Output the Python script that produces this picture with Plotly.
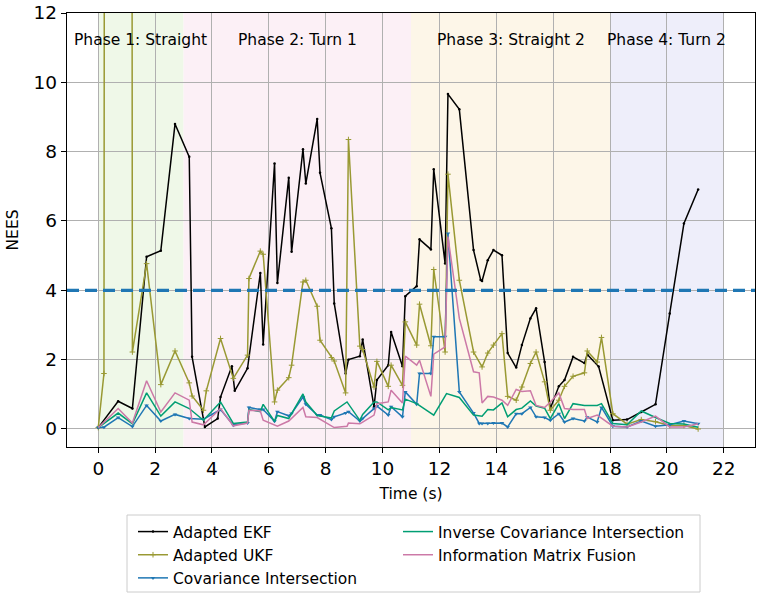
import plotly.graph_objects as go

# ---------------- data ----------------
ekf_t = [0, 0.7, 1.2, 1.7, 2.2, 2.7, 3.2, 3.3, 3.75, 4.2, 4.3, 4.7, 4.8, 5.25, 5.7, 5.8, 6.2, 6.3, 6.7, 6.8,
         7.2, 7.3, 7.7, 7.8, 8.2, 8.3, 8.7, 8.8, 9.2, 9.3, 9.7, 9.8, 10.2, 10.3, 10.7, 10.8, 11.2, 11.3,
         11.7, 11.8, 12.2, 12.3, 12.7, 13.2, 13.45, 13.5, 13.7, 13.9, 14.2, 14.4, 14.7, 14.9, 15.2, 15.4,
         15.7, 15.9, 16.2, 16.4, 16.7, 17.1, 17.2, 17.6, 18.1, 18.6, 19.1, 19.6, 20.1, 20.6, 21.1]
ekf_nees = [0.04, 0.8, 0.59, 4.97, 5.14, 8.8, 7.85, 2.08, 0.06, 0.3, 0.92, 1.81, 1.1, 1.75, 4.5, 2.44,
            7.66, 4.21, 7.25, 5.11, 8.07, 7.08, 8.94, 7.39, 5.79, 3.62, 1.6, 2.0, 2.1, 2.58, 0.64, 1.41,
            1.84, 2.8, 1.81, 3.83, 4.12, 5.47, 5.18, 7.49, 4.77, 9.66, 9.22, 5.16, 4.3, 4.27, 4.87, 5.16,
            5.01, 2.19, 1.77, 2.42, 3.19, 3.48, 1.93, 0.59, 1.23, 1.41, 2.08, 1.9, 2.15, 1.8, 0.25, 0.27,
            0.49, 0.71, 3.33, 5.93, 6.91]

ukf_t = [0, 0.2, 0.7, 1.2, 1.7, 2.2, 2.7, 3.2, 3.3, 3.7, 3.8, 4.3, 4.75, 5.25, 5.3, 5.7, 5.8, 6.2, 6.3,
         6.7, 6.8, 7.2, 7.3, 7.7, 7.8, 8.2, 8.3, 8.7, 8.8, 9.2, 9.3, 9.7, 9.8, 10.2, 10.3, 10.7, 10.8,
         11.2, 11.3, 11.7, 11.8, 12.2, 12.3, 12.7, 13.2, 13.5, 13.7, 13.9, 14.2, 14.4, 14.7, 14.9, 15.2,
         15.4, 15.7, 15.9, 16.2, 16.4, 16.7, 17.1, 17.2, 17.55, 17.7, 18.1, 18.6, 19.1, 19.6, 20.1,
         20.6, 21.1]
ukf_nees = [0.04, 1.6, 500.0, 2.22, 4.77, 1.28, 2.25, 1.33, 0.95, 0.54, 1.1, 2.61, 1.46, 2.13, 4.34,
            5.13, 5.04, 0.78, 1.12, 1.48, 1.84, 4.24, 4.29, 3.54, 2.56, 2.06, 1.96, 1.04, 8.35, 2.39,
            2.29, 1.21, 1.95, 1.23, 1.84, 1.26, 3.09, 2.42, 3.6, 2.4, 4.6, 2.22, 7.35, 4.29, 2.22, 1.79,
            2.19, 2.42, 2.75, 0.94, 0.83, 1.21, 1.89, 2.22, 1.36, 0.54, 0.83, 1.23, 1.52, 1.62, 2.25,
            1.93, 2.64, 0.44, 0.14, 0.27, 0.21, 0.1, 0.1, 0.0]

ci_t = [0, 0.2, 0.7, 1.2, 1.7, 2.2, 2.7, 3.2, 3.7, 4.3, 4.75, 4.8, 5.25, 5.3, 5.7, 5.8, 6.2, 6.3, 6.7,
        6.8, 7.2, 7.3, 7.7, 7.8, 8.2, 8.3, 8.7, 8.8, 9.2, 9.3, 9.7, 9.8, 10.2, 10.3, 10.7, 10.8, 11.2,
        11.3, 11.7, 11.8, 12.2, 12.3, 12.7, 13.2, 13.4, 13.5, 13.7, 13.9, 14.2, 14.4, 14.7, 14.9, 15.2,
        15.4, 15.7, 15.9, 16.2, 16.4, 16.7, 17.1, 17.2, 17.55, 17.7, 18.1, 18.6, 19.1, 19.6, 20.1,
        20.6, 21.1]
ci_nees = [0.04, 0.05, 0.33, 0.07, 0.68, 0.23, 0.42, 0.3, 0.28, 0.56, 0.11, 0.13, 0.17, 0.62, 0.56,
           0.56, 0.22, 0.5, 0.38, 0.45, 0.92, 0.71, 0.4, 0.4, 0.27, 0.35, 0.46, 0.5, 0.23, 0.3, 0.59,
           0.66, 0.4, 0.64, 0.35, 1.07, 0.71, 1.6, 1.6, 2.66, 2.66, 5.64, 1.07, 0.46, 0.16, 0.16, 0.16,
           0.17, 0.17, 0.06, 0.44, 0.44, 0.62, 0.35, 0.33, 0.25, 0.44, 0.2, 0.3, 0.23, 0.34, 0.2, 0.62,
           0.08, 0.06, 0.23, 0.08, 0.12, 0.23, 0.15]

ici_t = [0, 0.7, 1.2, 1.7, 2.2, 2.7, 3.2, 3.7, 4.3, 4.75, 5.25, 5.3, 5.7, 5.8, 6.2, 6.3, 6.7, 6.8, 7.2,
         7.3, 7.7, 8.2, 8.3, 8.75, 9.2, 9.3, 9.7, 9.8, 10.2, 10.3, 10.7, 10.8, 11.2, 11.8, 12.25, 12.7,
         13.2, 13.5, 13.7, 13.9, 14.2, 14.4, 14.7, 14.9, 15.2, 15.4, 15.7, 15.9, 16.2, 16.4, 16.7,
         17.1, 17.2, 17.55, 17.7, 18.1, 18.6, 19.1, 19.6, 20.1, 20.6, 21.1]
ici_nees = [0.04, 0.46, 0.15, 1.04, 0.37, 0.78, 0.59, 0.25, 0.78, 0.16, 0.2, 0.56, 0.5, 0.71, 0.22,
            0.39, 0.3, 0.45, 1.01, 0.78, 0.39, 0.32, 0.52, 0.78, 0.25, 0.42, 0.78, 0.78, 0.55, 0.62,
            0.55, 0.86, 0.73, 0.4, 1.02, 0.91, 0.4, 0.37, 0.56, 0.55, 0.75, 0.35, 0.56, 0.6, 0.81, 0.66,
            0.6, 0.3, 0.73, 0.3, 0.73, 0.68, 0.68, 0.68, 0.73, 0.16, 0.12, 0.52, 0.33, 0.16, 0.14, 0.05]

imf_t = [0, 0.7, 1.2, 1.7, 2.2, 2.7, 3.2, 3.3, 3.7, 4.3, 4.75, 5.25, 5.3, 5.7, 5.8, 6.3, 6.7, 7.2, 7.3,
         7.7, 8.3, 8.75, 8.8, 9.2, 9.3, 9.7, 9.8, 10.2, 10.3, 10.7, 10.8, 11.2, 11.3, 11.7, 11.8, 12.2,
         12.3, 12.7, 13.2, 13.4, 13.5, 13.7, 13.9, 14.2, 14.4, 14.7, 14.9, 15.2, 15.4, 15.7, 15.9,
         16.2, 16.4, 16.7, 17.1, 17.2, 17.55, 18.1, 18.6, 19.1, 19.6, 20.1, 20.6, 21.1]
imf_nees = [0.04, 0.59, 0.17, 1.39, 0.49, 1.04, 0.83, 0.2, 0.12, 0.59, 0.09, 0.17, 0.54, 0.52, 0.25,
            0.08, 0.23, 0.62, 0.35, 0.33, 0.04, 0.08, 0.17, 0.15, 0.2, 0.4, 0.73, 0.78, 1.12, 0.75, 2.1,
            1.84, 1.98, 0.94, 2.16, 2.37, 5.55, 3.19, 1.65, 1.62, 0.75, 0.94, 0.92, 0.83, 0.68, 1.14,
            1.08, 1.1, 0.68, 0.62, 0.78, 1.04, 0.59, 0.56, 0.56, 0.3, 0.4, 0.08, 0.06, 0.2, 0.37, 0.06,
            0.06, 0.15]

threshold = 4.0

phase_start = [0, 3, 11, 18]
phase_end = [3, 11, 18, 22]
phase_names = ["Phase 1: Straight", "Phase 2: Turn 1", "Phase 3: Straight 2", "Phase 4: Turn 2"]
phase_colors = ["#eff8e8", "#fcf0f6", "#fdf6e8", "#eeeefa"]

x_ticks = list(range(0, 23, 2))
y_ticks = list(range(0, 13, 2))

FONT = "DejaVu Sans"

# figure geometry (pixels)
W, H = 762, 599
ML, MR, MT, MB = 67, 7, 13, 152
PW, PH = W - ML - MR, H - MT - MB


def px_x(p):
    return (p - ML) / PW


def px_y(p):
    return (H - MB - p) / PH


fig = go.Figure()

series = [
    ("Adapted EKF", ekf_t, ekf_nees, "#000000", dict(symbol="circle", size=2.5), "legend", 1),
    ("Adapted UKF", ukf_t, ukf_nees, "#999933", dict(symbol="cross-thin", size=4,
                                                      line=dict(width=1, color="#999933")), "legend", 2),
    ("Covariance Intersection", ci_t, ci_nees, "#1f77b4", dict(symbol="triangle-down", size=4), "legend", 3),
    ("Inverse Covariance Intersection", ici_t, ici_nees, "#009e73", None, "legend2", 1),
    ("Information Matrix Fusion", imf_t, imf_nees, "#cc79a7", None, "legend2", 2),
]
for name, t, v, col, mk, lg, rank in series:
    fig.add_trace(go.Scatter(
        x=t, y=v, name=name, legend=lg, legendrank=rank,
        mode="lines+markers" if mk else "lines",
        line=dict(color=col, width=1.5),
        marker=dict(color=col, **mk) if mk else None,
    ))

for s, e, c, n in zip(phase_start, phase_end, phase_colors, phase_names):
    fig.add_shape(type="rect", x0=s, x1=e, y0=0, y1=1, xref="x", yref="paper",
                  fillcolor=c, line=dict(width=0), layer="below")
    fig.add_annotation(x=(s + e) / 2, y=11.22, xref="x", yref="y", text=n, showarrow=False,
                       font=dict(family=FONT, size=15.5, color="#000000"),
                       xanchor="center", yanchor="middle")

fig.add_shape(type="line", x0=0, x1=1, xref="paper", y0=threshold, y1=threshold, yref="y",
              line=dict(color="#1f77b4", width=3.2, dash="12px,6px"), layer="above")

# legend frame
fig.add_shape(type="rect", xref="paper", yref="paper",
              x0=px_x(127), x1=px_x(700), y0=px_y(592), y1=px_y(515),
              line=dict(color="#cccccc", width=1), fillcolor="rgba(255,255,255,0.8)", layer="above")

axis_common = dict(
    showline=True, linecolor="#000000", linewidth=1.3, mirror=True,
    ticks="outside", ticklen=5, tickwidth=1.3, tickcolor="#000000",
    showgrid=True, gridcolor="#b0b0b0", gridwidth=1.2, zeroline=False,
    tickfont=dict(family=FONT, size=18.5, color="#000000"),
)

legend_common = dict(orientation="v", yanchor="top", xanchor="left", y=px_y(515),
                     font=dict(family=FONT, size=15.5), borderwidth=0,
                     bgcolor="rgba(0,0,0,0)", traceorder="normal", tracegroupgap=0)

fig.update_layout(
    width=W, height=H,
    margin=dict(l=ML, r=MR, t=MT, b=MB, autoexpand=False),
    paper_bgcolor="white", plot_bgcolor="white",
    font=dict(family=FONT, color="#000000"),
    xaxis=dict(range=[-1.1, 23.1], tickvals=x_ticks,
               title=dict(text="Time (s)", font=dict(family=FONT, size=15.5), standoff=9),
               **axis_common),
    yaxis=dict(range=[-0.52, 12], tickvals=y_ticks,
               title=dict(text="NEES", font=dict(family=FONT, size=15.5), standoff=11),
               **axis_common),
    legend=dict(x=px_x(133), **legend_common),
    legend2=dict(x=px_x(398), **legend_common),
    showlegend=True,
)

fig.write_html("out.html")
